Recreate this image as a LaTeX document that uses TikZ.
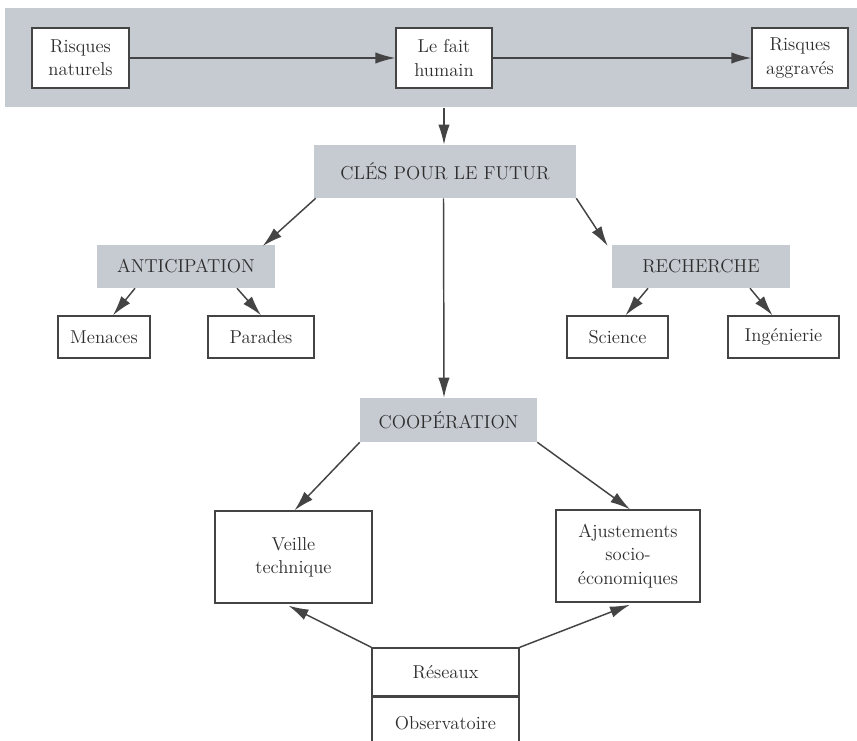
\documentclass[tikz,border=0pt]{standalone}
\usetikzlibrary{arrows.meta}
\definecolor{bandgray}{HTML}{C6CAD1}
\definecolor{inkgray}{HTML}{2E2E2E}
\definecolor{linegray}{HTML}{444444}
\tikzset{
  txt/.style={font=\fontsize{14}{17.5}\selectfont, text=inkgray, align=center, inner sep=0pt},
  wbox/.style={txt, draw=linegray, line width=1pt, fill=white},
  gbox/.style={txt, fill=bandgray},
  link/.style={draw=linegray, line width=1.1pt, -{Latex[length=15pt,width=8.5pt]}},
}
\begin{document}
\begin{tikzpicture}[x=0.75pt, y=-0.75pt]
\clip (0,0) rectangle (857,741);
\fill[white] (0,0) rectangle (857,741);

% top band with the three chained boxes
\node[gbox, minimum width=855pt*0.75, minimum height=99pt*0.75, anchor=north west] (band) at (5,8) {};
\node[wbox, minimum width=97pt*0.75, minimum height=60pt*0.75] (nat) at (80.5,58) {Risques\\naturels};
\node[wbox, minimum width=96pt*0.75, minimum height=60pt*0.75] (fait) at (444,58) {Le fait\\humain};
\node[wbox, minimum width=96pt*0.75, minimum height=60pt*0.75] (aggr) at (800,58) {Risques\\aggravés};

% key headings
\node[gbox, minimum width=262pt*0.75, minimum height=53pt*0.75] (cles) at (445,171.5) {CLÉS POUR LE FUTUR};
\node[gbox, minimum width=178pt*0.75, minimum height=43pt*0.75] (anti) at (186,266.5) {ANTICIPATION};
\node[gbox, minimum width=178pt*0.75, minimum height=43pt*0.75] (rech) at (701,266.5) {RECHERCHE};
\node[gbox, minimum width=177pt*0.75, minimum height=44pt*0.75] (coop) at (448.5,420) {COOPÉRATION};

% leaves
\node[wbox, minimum width=92pt*0.75, minimum height=42pt*0.75] (men) at (104,337) {Menaces};
\node[wbox, minimum width=106pt*0.75, minimum height=42pt*0.75] (par) at (261,337) {Parades};
\node[wbox, minimum width=101pt*0.75, minimum height=42pt*0.75] (sci) at (617.5,337) {Science};
\node[wbox, minimum width=111pt*0.75, minimum height=42pt*0.75] (ing) at (783.5,337) {Ingénierie};
\node[wbox, minimum width=157pt*0.75, minimum height=92pt*0.75] (veil) at (293.5,557) {Veille\\technique};
\node[wbox, minimum width=144pt*0.75, minimum height=92pt*0.75] (ajus) at (628,556) {Ajustements\\socio-\\économiques};
\node[wbox, minimum width=147pt*0.75, minimum height=48pt*0.75] (res) at (445.5,672) {Réseaux};
\node[wbox, minimum width=147pt*0.75, minimum height=52pt*0.75, anchor=north] (obs) at (res.south) {Observatoire};

% connectors
\draw[link] (nat.east) -- (fait.west);
\draw[link] (fait.east) -- (aggr.west);
\draw[link] (band.south -| fait) -- (cles.north -| fait);
\draw[link] ([xshift=2pt*0.75]cles.south west) -- ([xshift=166pt*0.75,yshift=-1pt]anti.north west);
\draw[link] ([xshift=-0.5pt*0.75]cles.south -| fait) -- (coop.north -| fait);
\draw[link] (cles.south east) -- ([xshift=-4pt*0.75,yshift=-1pt]rech.north west);
\draw[link] ([xshift=-51pt*0.75]anti.south) -- ([xshift=9pt*0.75]men.north);
\draw[link] ([xshift=51pt*0.75]anti.south) -- (par.north);
\draw[link] ([xshift=-53pt*0.75]rech.south) -- ([xshift=8pt*0.75]sci.north);
\draw[link] ([xshift=49pt*0.75]rech.south) -- ([xshift=-11pt*0.75]ing.north);
\draw[link] (coop.south west) -- ([xshift=1pt*0.75]veil.north);
\draw[link] (coop.south east) -- ([xshift=2pt*0.75]ajus.north);
\draw[link] (res.north west) -- ([xshift=-5pt*0.75,yshift=-2pt*0.75]veil.south);
\draw[link] (res.north east) -- ([xshift=2pt*0.75,yshift=-2pt*0.75]ajus.south);
\end{tikzpicture}
\end{document}
